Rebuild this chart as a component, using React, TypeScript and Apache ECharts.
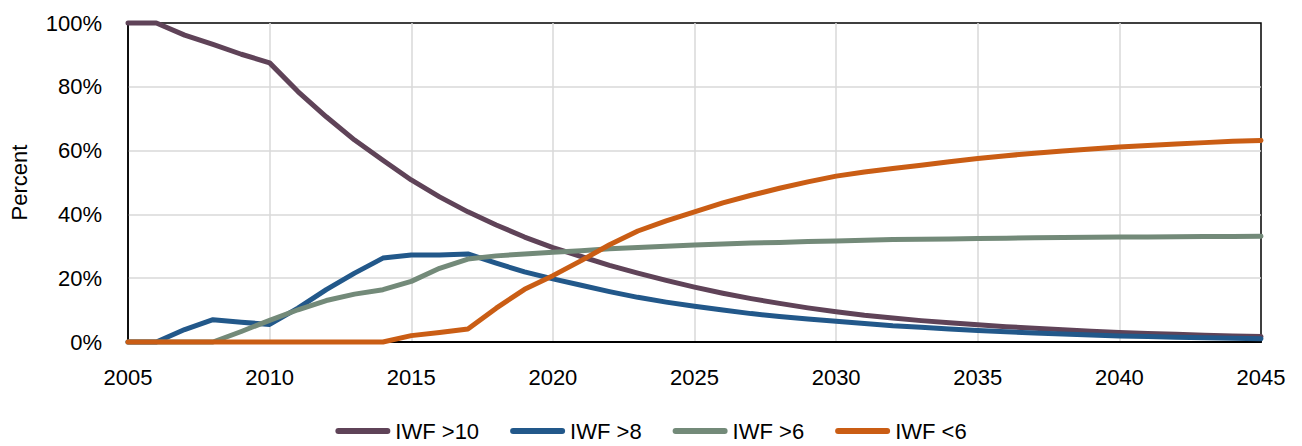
import React, { useEffect, useRef } from "react";
import * as echarts from "echarts";

const years: number[] = [];
for (let y = 2005; y <= 2045; y++) years.push(y);

const iwf10 = [100, 100, 96.2, 93.3, 90.2, 87.5, 78.5, 70.6, 63.3, 57.0, 50.8, 45.5, 40.8, 36.7, 32.9, 29.6, 26.8, 24.0, 21.6, 19.3, 17.2, 15.3, 13.6, 12.1, 10.7, 9.5, 8.4, 7.5, 6.7, 6.0, 5.4, 4.8, 4.3, 3.85, 3.4, 3.0, 2.7, 2.4, 2.15, 1.9, 1.7];
const iwf8 = [0, 0, 3.9, 7.0, 6.2, 5.5, 10.6, 16.4, 21.6, 26.3, 27.3, 27.3, 27.6, 24.7, 22.0, 19.8, 17.8, 15.8, 14.0, 12.5, 11.2, 10.0, 8.9, 8.0, 7.2, 6.5, 5.8, 5.1, 4.6, 4.1, 3.6, 3.2, 2.8, 2.5, 2.2, 1.9, 1.7, 1.5, 1.3, 1.15, 1.0];
const iwf6 = [0, 0, 0, 0, 3.3, 6.8, 10.1, 13.0, 15.0, 16.4, 19.0, 23.1, 26.0, 27.0, 27.6, 28.1, 28.6, 29.2, 29.6, 30.0, 30.4, 30.7, 31.0, 31.2, 31.5, 31.7, 31.9, 32.1, 32.2, 32.3, 32.45, 32.55, 32.65, 32.75, 32.8, 32.9, 32.95, 33.0, 33.05, 33.1, 33.15];
const iwfLt6 = [0, 0, 0, 0, 0, 0, 0, 0, 0, 0, 2.0, 3.0, 4.1, 10.6, 16.5, 20.8, 25.5, 30.5, 34.8, 38.0, 40.8, 43.6, 46.0, 48.2, 50.2, 52.0, 53.3, 54.4, 55.4, 56.5, 57.5, 58.4, 59.2, 59.9, 60.5, 61.1, 61.6, 62.1, 62.5, 62.9, 63.2];

const seriesNames = ["IWF >10", "IWF >8", "IWF >6", "IWF <6"];
const seriesValues = [iwf10, iwf8, iwf6, iwfLt6];
const colors = ["#5f4358", "#22588a", "#738a79", "#ca5d14"];

const FONT = "'Liberation Sans', Arial, sans-serif";

export default function App() {
  const ref = useRef<HTMLDivElement>(null);
  useEffect(() => {
    document.body.style.margin = "0";
    if (!ref.current) return;
    const chart = echarts.init(ref.current, undefined, { renderer: "svg" });
    chart.setOption({
      animation: false,
      backgroundColor: "#ffffff",
      textStyle: { fontFamily: FONT },
      grid: {
        left: 128,
        right: 41,
        top: 23,
        bottom: 104,
        show: true,
        borderColor: "#000000",
        borderWidth: 1.5,
        containLabel: false,
        outerBoundsMode: "none",
      },
      legend: {
        data: seriesNames,
        left: "center",
        top: 420,
        padding: 0,
        itemGap: 31,
        itemWidth: 55,
        itemHeight: 6,
        icon: "path://M3,0 L52,0 A3,3 0 0 1 52,6 L3,6 A3,3 0 0 1 3,0 Z",
        textStyle: { fontFamily: FONT, fontSize: 22, color: "#000000" },
      },
      xAxis: {
        type: "value",
        min: 2005,
        max: 2045,
        interval: 5,
        axisLine: { show: true, lineStyle: { color: "#000000", width: 2 } },
        axisTick: { show: false },
        axisLabel: {
          color: "#000000",
          fontSize: 22,
          fontFamily: FONT,
          margin: 24,
          formatter: (v: number) => String(v),
        },
        splitLine: { show: true, showMinLine: false, showMaxLine: false, lineStyle: { color: "#d9d9d9", width: 1.5 } },
      },
      yAxis: {
        type: "value",
        min: 0,
        max: 100,
        interval: 20,
        name: "Percent",
        nameLocation: "middle",
        nameGap: 98,
        nameRotate: 90,
        nameTextStyle: { color: "#000000", fontSize: 22, fontFamily: FONT },
        axisLine: { show: true, lineStyle: { color: "#000000", width: 1.5 } },
        axisTick: { show: false },
        axisLabel: { color: "#000000", fontSize: 22, fontFamily: FONT, margin: 26, formatter: "{value}%" },
        splitLine: { show: true, showMinLine: false, showMaxLine: false, lineStyle: { color: "#d9d9d9", width: 1.5 } },
      },
      series: seriesNames.map((name, i) => ({
        name,
        type: "line",
        data: years.map((y, j) => [y, seriesValues[i][j]]),
        showSymbol: false,
        symbol: "none",
        color: colors[i],
        lineStyle: { color: colors[i], width: 5, cap: "round", join: "round" },
        clip: false,
      })),
    });
    return () => chart.dispose();
  }, []);
  return <div ref={ref} style={{ width: 1302, height: 446 }} />;
}
